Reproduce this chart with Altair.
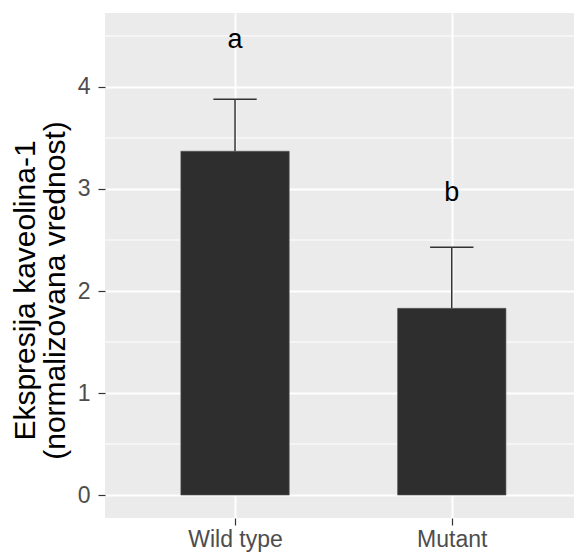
import altair as alt
import pandas as pd

categories = ["Wild type", "Mutant"]
means = [3.37, 1.83]
uppers = [3.88, 2.43]
letters = ["a", "b"]
letter_y = [4.38, 2.88]
minor_y = [0.5, 1.5, 2.5, 3.5, 4.5]

df = pd.DataFrame({
    "cat": categories,
    "pos": [1, 2],
    "mean": means,
    "upper": uppers,
    "letter": letters,
    "ly": letter_y,
})
minor_df = pd.DataFrame({"y": minor_y})

FONT = "Liberation Sans"
xscale = alt.Scale(domain=[0.4, 2.564], nice=False, zero=False)
yscale = alt.Scale(domain=[-0.225, 4.725], nice=False, zero=False)

label_expr = "datum.value == 1 ? 'Wild type' : (datum.value == 2 ? 'Mutant' : '')"

base = alt.Chart(df)

minor = alt.Chart(minor_df).mark_rule(color="white", strokeWidth=1).encode(
    y=alt.Y("y:Q", scale=yscale)
)

bars = base.transform_calculate(
    x1="datum.pos - 0.25", x2="datum.pos + 0.25", zero="0"
).mark_bar(color="#2e2e2e", stroke="#555555", strokeWidth=0.6).encode(
    x=alt.X("x1:Q", scale=xscale,
            axis=alt.Axis(values=[1, 2], labelExpr=label_expr, title=None,
                          grid=True, gridColor="white", gridWidth=2,
                          domain=False, tickColor="#333333", tickSize=7, tickWidth=1.2,
                          labelColor="#4d4d4d", labelFontSize=23, labelFont=FONT,
                          labelPadding=3)),
    x2="x2:Q",
    y=alt.Y("mean:Q", scale=yscale,
            axis=alt.Axis(values=[0, 1, 2, 3, 4], format="d",
                          title=["Ekspresija kaveolina-1", "(normalizovana vrednost)"],
                          titleFont=FONT, titleFontSize=30, titleFontWeight="normal",
                          titleColor="black", titleLineHeight=30,
                          titleX=-80, titleY=277, titleAngle=270,
                          titleAlign="center", titleBaseline="middle",
                          grid=True, gridColor="white", gridWidth=2,
                          domain=False, tickColor="#333333", tickSize=7, tickWidth=1.2,
                          labelColor="#4d4d4d", labelFontSize=23, labelFont=FONT,
                          labelPadding=8)),
    y2="zero:Q",
)

err = base.mark_rule(color="#333333", strokeWidth=1.5).encode(
    x=alt.X("pos:Q", scale=xscale),
    y=alt.Y("mean:Q", scale=yscale),
    y2="upper:Q",
)

cap = base.transform_calculate(
    c1="datum.pos - 0.1", c2="datum.pos + 0.1"
).mark_rule(color="#333333", strokeWidth=1.5).encode(
    x=alt.X("c1:Q", scale=xscale),
    x2="c2:Q",
    y=alt.Y("upper:Q", scale=yscale),
)

text = base.mark_text(font=FONT, fontSize=27, color="black", baseline="alphabetic").encode(
    x=alt.X("pos:Q", scale=xscale),
    y=alt.Y("ly:Q", scale=yscale),
    text="letter:N",
)

chart = alt.layer(minor, bars, err, cap, text).properties(
    width=469, height=505,
    autosize=alt.AutoSizeParams(type="none"),
    padding={"left": 105, "top": 13, "right": 0, "bottom": 35},
    background="white",
).configure_view(fill="#ebebeb", stroke=None)

chart.save("out.html", embed_options={"renderer": "svg", "actions": False})
